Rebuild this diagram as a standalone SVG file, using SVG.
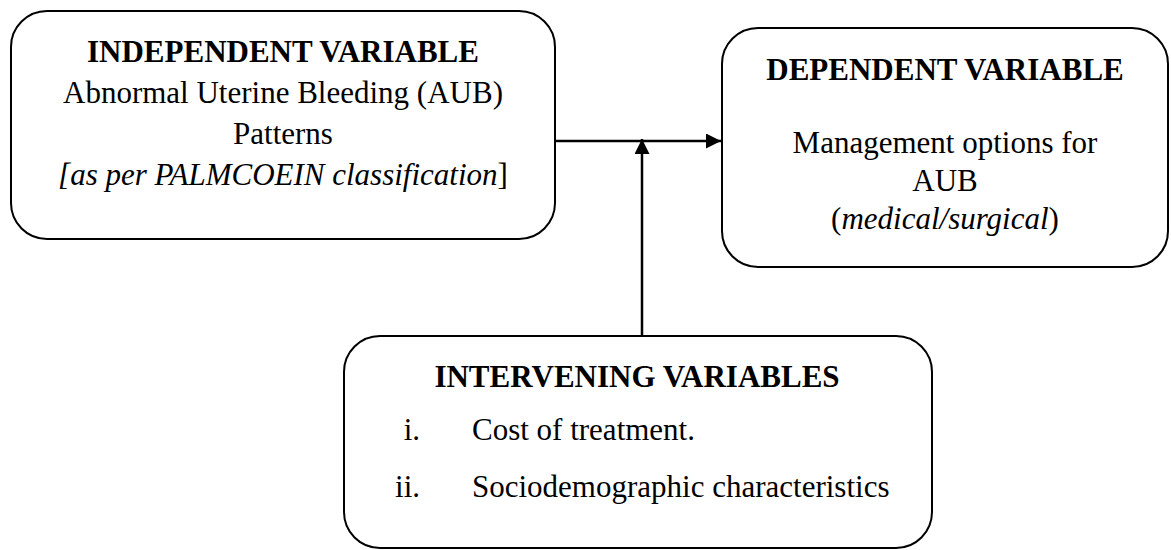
<svg xmlns="http://www.w3.org/2000/svg" width="1171" height="550" viewBox="0 0 1171 550">
<style>
.box{fill:#fff;stroke:#000;stroke-width:2}
text{font-family:"Liberation Serif","Times New Roman",serif;font-size:31px;fill:#000}
.h{font-weight:bold}
.c{text-anchor:middle}
.it{font-style:italic}
.con{stroke:#000;stroke-width:2.5;fill:none}
</style>
<defs>
<marker id="ah" viewBox="0 0 10 10" refX="10" refY="5" markerWidth="15" markerHeight="15" markerUnits="userSpaceOnUse" orient="auto">
<path d="M0,0 L10,5 L0,10 z" fill="#000"/>
</marker>
</defs>
<g id="independent">
<rect class="box" x="11" y="11" width="544" height="228" rx="36" ry="36"/>
<text class="h c" x="283" y="62">INDEPENDENT VARIABLE</text>
<text class="c" x="283" y="103">Abnormal Uterine Bleeding (AUB)</text>
<text class="c" x="283" y="144">Patterns</text>
<text class="c" x="283" y="185"><tspan class="it">[as per PALMCOEIN classification</tspan>]</text>
</g>
<g id="dependent">
<rect class="box" x="722" y="28" width="446" height="239" rx="36" ry="36"/>
<text class="h c" x="945" y="80">DEPENDENT VARIABLE</text>
<text class="c" x="945" y="153">Management options for</text>
<text class="c" x="945" y="191">AUB</text>
<text class="c" x="945" y="229">(<tspan class="it">medical/surgical</tspan>)</text>
</g>
<g id="intervening">
<rect class="box" x="344" y="336" width="588" height="212" rx="36" ry="36"/>
<text class="h c" x="637" y="387">INTERVENING VARIABLES</text>
<text x="420" y="440" text-anchor="end">i.</text>
<text x="472" y="440">Cost of treatment.</text>
<text x="420" y="497" text-anchor="end">ii.</text>
<text x="472" y="497">Sociodemographic characteristics</text>
</g>
<g id="connectors">
<line class="con" x1="555" y1="141" x2="721" y2="141" marker-end="url(#ah)"/>
<line class="con" x1="642" y1="336" x2="642" y2="139" marker-end="url(#ah)"/>
</g>
</svg>
